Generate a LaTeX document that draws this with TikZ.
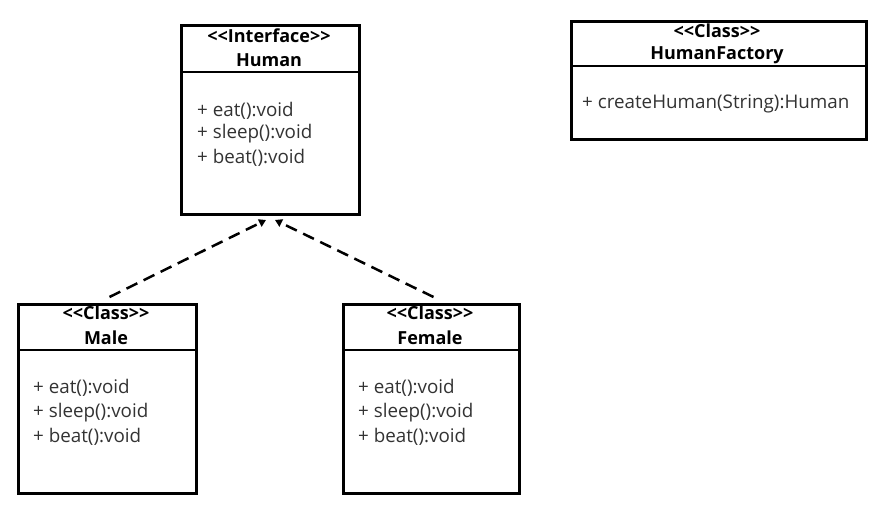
\documentclass[tikz,border=0pt]{standalone}
\usepackage{fontspec}
\setmainfont{Open Sans}[Ligatures=NoCommon]
\usetikzlibrary{arrows.meta}
\definecolor{txt}{HTML}{333333}
\newcommand{\lguil}{{<}{<}}
\newcommand{\rguil}{{>}{>}}
\begin{document}
\begin{tikzpicture}[x=1pt,y=-1pt,
  box/.style={draw=black,line width=3pt,anchor=north west,inner sep=0pt},
  head/.style={font=\bfseries\fontsize{18}{20}\selectfont,text=black,anchor=center,inner sep=0pt},
  meth/.style={font=\fontsize{18.8}{21}\selectfont,text=txt,anchor=west,inner sep=0pt},
  divider/.style={draw=black,line width=2.5pt},
  dep/.style={draw=black,line width=2.5pt,dash pattern=on 12pt off 7pt,-{Triangle[length=7pt,width=8pt]}}]
\useasboundingbox (0,0) rectangle (873,510);
% Human
\node[box,minimum width=178pt,minimum height=189pt] (human) at (180,24) {};
\draw[divider] (180,72) -- (358,72);
\node[head] (hs) at (269,36) {\lguil Interface\rguil};
\node[head] (hn) at (269,60) {Human};
\node[meth] (h1) at (197,111) {+ eat():void};
\node[meth] (h2) at (197,134) {+ sleep():void};
\node[meth] (h3) at (197,158) {+ beat():void};
% HumanFactory
\node[box,minimum width=295pt,minimum height=118pt] (hf) at (570,20) {};
\draw[divider] (570,66) -- (865,66);
\node[head] (fs) at (717,31) {\lguil Class\rguil};
\node[head] (fn) at (717,55) {HumanFactory};
\node[meth] (f1) at (582,104) {+ createHuman(String):Human};
% Male
\node[box,minimum width=178pt,minimum height=189pt] (male) at (17,303) {};
\draw[divider] (17,350) -- (195,350);
\node[head] (ms) at (106,313) {\lguil Class\rguil};
\node[head] (mn) at (106,338) {Male};
\node[meth] (m1) at (33,388) {+ eat():void};
\node[meth] (m2) at (33,413) {+ sleep():void};
\node[meth] (m3) at (33,437) {+ beat():void};
% Female
\node[box,minimum width=176pt,minimum height=189pt] (female) at (342,303) {};
\draw[divider] (342,350) -- (518,350);
\node[head] (es) at (430,313) {\lguil Class\rguil};
\node[head] (en) at (430,338) {Female};
\node[meth] (e1) at (358,388) {+ eat():void};
\node[meth] (e2) at (358,413) {+ sleep():void};
\node[meth] (e3) at (358,437) {+ beat():void};
% connectors
\coordinate (tl) at (266,220);
\coordinate (tr) at (275,220);
\draw[dep] ([xshift=2pt,yshift=6pt]male.north) -- (tl);
\draw[dep] ([xshift=2pt,yshift=6pt]female.north) -- (tr);
\end{tikzpicture}
\end{document}
